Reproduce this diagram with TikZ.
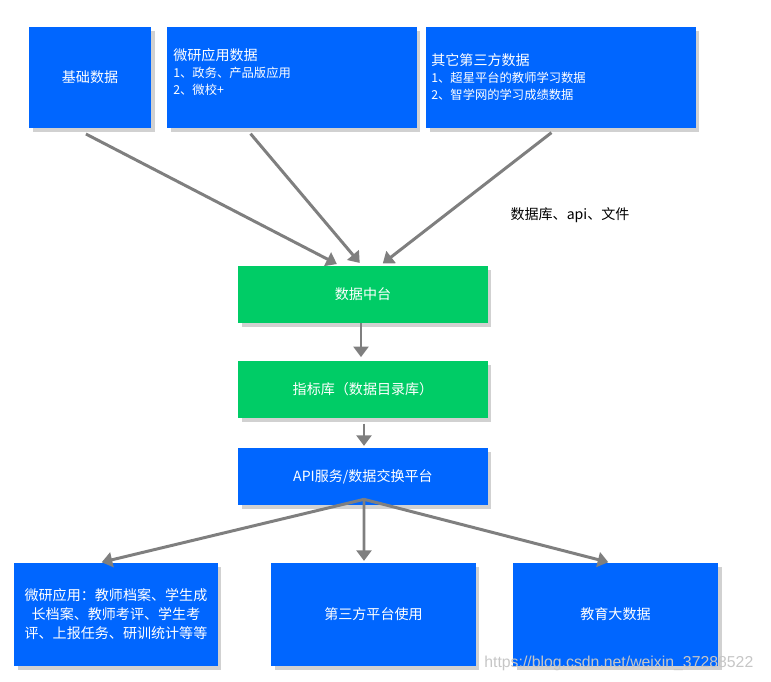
\documentclass[tikz,border=0pt]{standalone}
\usepackage{fontspec}
\setmainfont{Noto Sans CJK SC}
\newfontfamily\wmfont{Liberation Sans}
\usetikzlibrary{arrows.meta,shadows}
\definecolor{bblue}{RGB}{0,102,255}
\definecolor{bgreen}{RGB}{0,204,102}
\definecolor{agray}{RGB}{127,127,127}
\tikzset{
 box/.style={draw=none,text=white,inner sep=0pt,
   drop shadow={fill=gray!60,opacity=0.6,shadow xshift=2pt,shadow yshift=-2pt},
   font=\fontsize{8pt}{10.8pt}\selectfont},
 bluebox/.style={box,fill=bblue},
 greenbox/.style={box,fill=bgreen},
 boxtext/.style={text=white,anchor=north west,align=left,inner sep=0pt,
   font=\fontsize{7pt}{9.7pt}\selectfont},
 arr/.style={agray,line width=1.7pt,-{Triangle[length=6pt,width=8.5pt]}}
}
\begin{document}
\begin{tikzpicture}[x=0.02cm,y=-0.02cm]
\useasboundingbox (0,0) rectangle (771,682);
% sources
 \node[bluebox,minimum width=2.44cm,minimum height=2.02cm] (base) at (90,77.5) {基础数据};
 \node[bluebox,minimum width=5cm,minimum height=2.02cm] (wy) at (292,77.5) {};
 \node[boxtext] (wyt) at (173,48)
   {{\fontsize{8pt}{10pt}\selectfont 微研应用数据}\\
    1、政务、产品版应用\\
    2、微校+};
 \node[bluebox,minimum width=5.4cm,minimum height=2.02cm] (other) at (561,77.5) {};
 \node[boxtext] (othert) at (431,53)
   {{\fontsize{8pt}{10pt}\selectfont 其它第三方数据}\\
    1、超星平台的教师学习数据\\
    2、智学网的学习成绩数据};
 \node[font=\fontsize{8pt}{10pt}\selectfont] (src) at (570,215) {数据库、api、文件};
% platform
 \node[greenbox,minimum width=5cm,minimum height=1.14cm] (zt) at (363,294.5) {数据中台};
 \node[greenbox,minimum width=5cm,minimum height=1.14cm] (zb) at (363,389.5) {指标库（数据目录库）};
 \node[bluebox,minimum width=5cm,minimum height=1.14cm] (api) at (363,476.5) {API服务/数据交换平台};
% uses
 \node[bluebox,minimum width=4.08cm,minimum height=2.06cm,align=center] (app) at (116,614.5)
   {微研应用：教师档案、学生成\\长档案、教师考评、学生考\\评、上报任务、研训统计等等};
 \node[bluebox,minimum width=4.1cm,minimum height=2.06cm] (third) at (373.5,614.5) {第三方平台使用};
 \node[bluebox,minimum width=4.1cm,minimum height=2.06cm] (edu) at (615.5,614.5) {教育大数据};
 \node[anchor=west,text=gray!45,inner sep=0pt,font=\wmfont\fontsize{9pt}{10pt}\selectfont] (wm) at (484,663)
   {https://blog.csdn.net/weixin\_37288522};
% connectors
 \draw[arr,shorten <=7pt,shorten >=2pt] ([xshift=-0.3cm]base.south) -- ([xshift=-0.46cm]zt.north);
 \draw[arr,shorten <=4pt,shorten >=2pt] ([xshift=-0.92cm]wy.south) -- ([xshift=-0.02cm]zt.north);
 \draw[arr,shorten <=4pt,shorten >=2pt] ([xshift=-0.08cm]other.south) -- ([xshift=0.34cm]zt.north);
 \draw[arr,shorten >=2pt] ([xshift=-0.04cm]zt.south) -- ([xshift=-0.04cm]zb.north);
 \draw[arr,shorten <=3pt,shorten >=1pt] ([xshift=0.02cm]zb.south) -- ([xshift=0.02cm]api.north);
 \coordinate (hub) at ([xshift=0.02cm,yshift=0.12cm]api.south);
 \draw[arr,shorten >=1pt] (hub) -- ([xshift=-0.32cm]app.north);
 \draw[arr,shorten >=1pt] (hub) -- ([xshift=-0.19cm]third.north);
 \draw[arr,shorten >=1pt] (hub) -- ([xshift=-0.11cm]edu.north);
\end{tikzpicture}
\end{document}
